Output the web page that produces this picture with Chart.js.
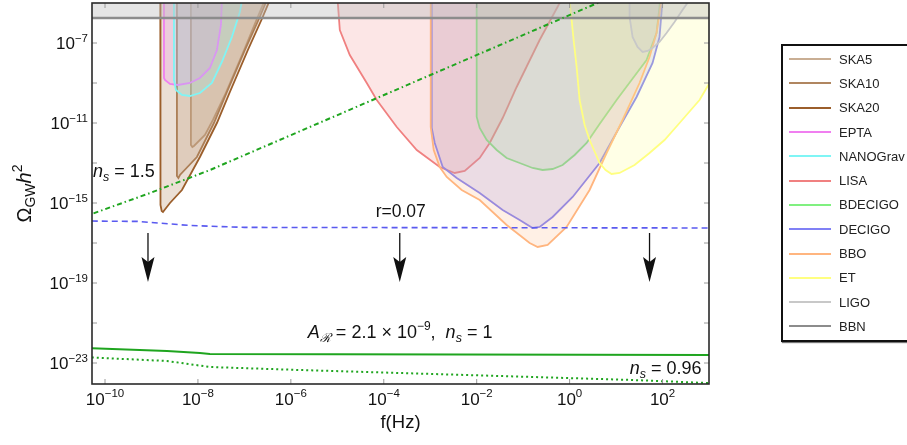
<!DOCTYPE html>
<html>
<head>
<meta charset="utf-8">
<script src="https://cdn.jsdelivr.net/npm/chart.js@4.4.1/dist/chart.umd.min.js"></script>
<style>
  html, body { margin: 0; padding: 0; background: #fff; overflow: hidden; }
  #wrap { position: relative; width: 907px; height: 445px; }
  #chart-box { position: absolute; left: 0; top: 0; width: 907px; height: 445px; }
  #legend {
    position: absolute; left: 781px; top: 44px; width: 150px; height: 293px; padding-top: 1px;
    border: 2px solid #111; box-shadow: 1px 1px 1px #777; background: #fff;
    font-family: 'Liberation Sans', Arial, sans-serif; font-size: 13px; color: #222;
  }
  .row { height: 24.3px; display: flex; align-items: center; white-space: nowrap; }
  .sw { width: 42px; height: 2px; margin: 0 8px 0 6px; flex: none; }
</style>
</head>
<body>
<div id="wrap">
  <div id="chart-box"><canvas id="gw-chart"></canvas></div>
  <div id="legend"></div>
</div>
<script>
// All values are log10(f / Hz) and log10(Omega_GW h^2).
const SKA5_F = [-8.151, -8.151, -8.12, -8.086, -7.849, -7.677, -7.419, -7.032, -6.731, -6.559, -6.45];
const SKA5_O = [-4.35, -12.1, -12.2, -12.15, -11.6, -10.85, -9.6, -7.5, -5.8, -4.85, -4.35];
const SKA10_F = [-8.452, -8.452, -8.42, -8.387, -8.022, -7.656, -7.376, -6.989, -6.688, -6.516, -6.409];
const SKA10_O = [-4.35, -13.65, -13.75, -13.6, -12.7, -11.0, -9.45, -7.35, -5.8, -4.85, -4.35];
const SKA20_F = [-8.81, -8.806, -8.78, -8.753, -8.602, -8.344, -7.957, -7.591, -7.312, -6.925, -6.624, -6.452, -6.344];
const SKA20_O = [-4.35, -15.1, -15.4, -15.45, -15.0, -14.35, -12.7, -11.0, -9.45, -7.35, -5.8, -4.85, -4.25];
const EPTA_F = [-8.731, -8.731, -8.71, -8.602, -8.43, -8.172, -7.957, -7.742, -7.591, -7.505, -7.484, -7.473];
const EPTA_O = [-4.35, -8.75, -8.85, -9.05, -9.1, -9.0, -8.75, -8.25, -7.35, -6.1, -4.85, -4.35];
const NANO_F = [-8.516, -8.516, -8.473, -8.344, -8.172, -7.957, -7.699, -7.484, -7.269, -7.097, -7.011];
const NANO_O = [-4.35, -8.85, -9.35, -9.6, -9.65, -9.5, -9.0, -7.95, -6.7, -5.45, -4.35];
const LISA_F = [-4.989, -4.989, -4.946, -4.731, -4.366, -4.151, -3.72, -3.29, -2.796, -2.473, -2.258, -1.935, -1.72, -1.441, -1.14, -0.645, -0.215, -0.108];
const LISA_O = [-4.35, -5.0, -6.35, -7.6, -9.0, -9.85, -11.2, -12.35, -13.2, -13.5, -13.4, -12.75, -12.0, -10.75, -9.2, -6.85, -5.0, -4.35];
const BDECIGO_F = [-2.0, -2.0, -1.935, -1.785, -1.57, -1.355, -1.075, -0.796, -0.581, -0.366, -0.151, 0.108, 0.366, 0.645, 1.011, 1.333, 1.656, 1.871, 1.935, 1.957];
const BDECIGO_O = [-4.35, -10.7, -11.25, -11.85, -12.35, -12.75, -13.0, -13.25, -13.35, -13.3, -13.1, -12.6, -12.0, -11.05, -9.85, -8.85, -7.85, -6.5, -5.2, -4.35];
const DECIGO_F = [-2.968, -2.968, -2.903, -2.731, -2.43, -1.935, -1.441, -1.075, -0.796, -0.645, -0.366, 0.065, 0.645, 1.075, 1.441, 1.785, 1.935, 2.0, 2.022];
const DECIGO_O = [-4.35, -11.25, -12.0, -13.2, -13.75, -14.5, -15.35, -15.85, -16.25, -16.2, -15.7, -14.7, -13.0, -11.2, -9.7, -8.0, -6.7, -4.85, -4.35];
const BBO_F = [-2.989, -2.989, -2.925, -2.796, -2.645, -2.323, -1.935, -1.355, -0.86, -0.688, -0.473, -0.065, 0.43, 0.796, 1.14, 1.505, 1.72, 1.871, 1.978, 2.0];
const BBO_O = [-4.35, -11.2, -12.35, -13.2, -13.7, -14.35, -14.85, -16.1, -17.0, -17.2, -17.1, -16.2, -14.35, -12.5, -10.85, -9.0, -7.7, -6.5, -4.85, -4.35];
const ET_F = [-0.022, 0.0, 0.086, 0.151, 0.215, 0.323, 0.43, 0.645, 0.774, 0.903, 1.075, 1.398, 1.72, 2.043, 2.366, 2.796, 3.011, 3.333, 3.763, 4.301];
const ET_O = [-4.35, -4.85, -6.85, -8.2, -9.85, -11.1, -11.85, -13.0, -13.35, -13.55, -13.5, -13.1, -12.5, -11.85, -11.0, -9.85, -9.0, -7.85, -6.35, -4.85];
const LIGO_F = [1.29, 1.29, 1.355, 1.462, 1.57, 1.677, 1.785, 1.935, 2.086, 2.258, 2.43, 2.581, 2.688];
const LIGO_O = [-4.35, -5.7, -6.7, -7.2, -7.45, -7.4, -7.25, -6.95, -6.5, -5.95, -5.35, -4.85, -4.45];
const BBN_F = [-11, 4];
const BBN_O = [-5.75, -5.75];

// theory curves
const NS15_F = [-10.5, -9.03, -7.74, 1.0];
const NS15_O = [-15.73, -14.5, -13.35, -4.6];
const R007_F = [-10.5, -9.3, -8.2, -7.0, 3.5];
const R007_O = [-15.9, -15.92, -16.12, -16.22, -16.25];
const NS1_F = [-10.5, -8.667, -7.957, -7.742, 3.5];
const NS1_O = [-22.25, -22.4, -22.5, -22.55, -22.6];
const NS096_F = [-10.5, -8.667, -7.742, -5.81, -1.505, 1.355, 3.5];
const NS096_O = [-22.7, -22.9, -23.2, -23.35, -23.65, -23.85, -24.05];

const ARROW_F = [-9.075, -3.656, 1.72];
const ARROW_TOP = -16.5;
const ARROW_TIP = -18.95;

const X_RANGE = [-10.28, 3];
const Y_RANGE = [-24.05, -5];
const X_TICKS = [-10, -8, -6, -4, -2, 0, 2];
const Y_TICKS = [-7, -9, -11, -13, -15, -17, -19, -21, -23];
const Y_LABELS = [-7, -11, -15, -19, -23];

const regions = [
  ['SKA5', SKA5_F, SKA5_O, '#c9ae94'],
  ['SKA10', SKA10_F, SKA10_O, '#b08660'],
  ['SKA20', SKA20_F, SKA20_O, '#9b5e2b'],
  ['EPTA', EPTA_F, EPTA_O, '#f07ff0'],
  ['NANOGrav', NANO_F, NANO_O, '#7ff5f5'],
  ['LISA', LISA_F, LISA_O, '#f08080'],
  ['BDECIGO', BDECIGO_F, BDECIGO_O, '#80f080'],
  ['DECIGO', DECIGO_F, DECIGO_O, '#8080f5'],
  ['BBO', BBO_F, BBO_O, '#ffb57f'],
  ['ET', ET_F, ET_O, '#ffff80'],
  ['LIGO', LIGO_F, LIGO_O, '#c8c8c8'],
];

const FONT = "'Liberation Sans', Arial, sans-serif";
const GREEN = '#1fa51f';

const pts = (f, o) => f.map((v, i) => ({ x: 10 ** v, y: 10 ** o[i] }));
const rgba = (hex, a) => {
  const n = parseInt(hex.slice(1), 16);
  return `rgba(${n >> 16},${(n >> 8) & 255},${n & 255},${a})`;
};

const datasets = regions.map(([label, f, o, color], i) => ({
  label, data: pts(f, o), borderColor: color, borderWidth: 1.8,
  backgroundColor: rgba(color, 0.2), fill: 'end', order: 100 - i,
}));
datasets.push({
  label: 'BBN', data: pts(BBN_F, BBN_O), borderColor: '#8c8c8c', borderWidth: 2.5,
  backgroundColor: 'rgba(190,190,190,0.4)', fill: 'end', order: 50,
});
datasets.push(
  { label: 'ns15', data: pts(NS15_F, NS15_O), borderColor: GREEN, borderWidth: 2, borderDash: [5, 3, 1.5, 3], fill: false, order: 4 },
  { label: 'r007', data: pts(R007_F, R007_O), borderColor: '#5a5af0', borderWidth: 1.6, borderDash: [6, 4], fill: false, order: 3 },
  { label: 'ns1', data: pts(NS1_F, NS1_O), borderColor: GREEN, borderWidth: 2, fill: false, order: 2 },
  { label: 'ns096', data: pts(NS096_F, NS096_O), borderColor: GREEN, borderWidth: 2, borderDash: [2, 3], fill: false, order: 1 },
);

// draw a run of text pieces: [text, size, dy, italic]
function drawRich(ctx, segs, x, y, align) {
  const widths = segs.map(([t, size, , it]) => {
    ctx.font = `${it ? 'italic ' : ''}${size}px ${FONT}`;
    return ctx.measureText(t).width;
  });
  const total = widths.reduce((s, w) => s + w, 0);
  let cx = align === 'center' ? x - total / 2 : align === 'right' ? x - total : x;
  segs.forEach(([t, size, dy, it], i) => {
    ctx.font = `${it ? 'italic ' : ''}${size}px ${FONT}`;
    ctx.fillText(t, cx, y + dy);
    cx += widths[i];
  });
}
const expText = (e) => (e < 0 ? '\u2212' + Math.abs(e) : String(e));

const annotations = {
  id: 'annotations',
  afterDatasetsDraw(chart) {
    const { ctx, scales: { x, y } } = chart;
    const px = (f) => x.getPixelForValue(10 ** f);
    const py = (o) => y.getPixelForValue(10 ** o);
    ctx.save();
    ctx.fillStyle = '#111';
    ctx.strokeStyle = '#111';
    ctx.textBaseline = 'alphabetic';

    // arrows
    ARROW_F.forEach((f) => {
      const ax = px(f), top = py(ARROW_TOP), tip = py(ARROW_TIP);
      ctx.lineWidth = 1.3;
      ctx.beginPath(); ctx.moveTo(ax, top); ctx.lineTo(ax, tip - 18); ctx.stroke();
      ctx.beginPath();
      ctx.moveTo(ax, tip); ctx.lineTo(ax - 6.5, tip - 25); ctx.lineTo(ax, tip - 20); ctx.lineTo(ax + 6.5, tip - 25);
      ctx.closePath(); ctx.fill();
    });

    drawRich(ctx, [['n', 18, 0, true], ['s', 12.5, 4, true], [' = 1.5', 18, 0]], px(-10.258), py(-13.7), 'left');
    drawRich(ctx, [['r=0.07', 17.5, 0]], px(-3.634), py(-15.7), 'center');
    drawRich(ctx, [
      ['A', 18, 0, true], ['\u211B', 12.5, 4, true], [' = 2.1 \u00D7 10', 18, 0], ['\u22129', 12, -8],
      [',  ', 18, 0], ['n', 18, 0, true], ['s', 12.5, 4, true], [' = 1', 18, 0],
    ], px(-5.634), py(-21.75), 'left');
    drawRich(ctx, [['n', 18, 0, true], ['s', 12.5, 4, true], [' = 0.96', 18, 0]], px(2.839), py(-23.55), 'right');
    ctx.restore();
  },
};

const frame = {
  id: 'frame',
  afterDraw(chart) {
    const { ctx, chartArea: a, scales: { x, y } } = chart;
    const seg = (x1, y1, x2, y2) => { ctx.beginPath(); ctx.moveTo(x1, y1); ctx.lineTo(x2, y2); ctx.stroke(); };
    ctx.save();
    ctx.strokeStyle = '#9a9a9a';
    ctx.lineWidth = 1;
    X_TICKS.forEach((e) => {
      const p = x.getPixelForValue(10 ** e);
      seg(p, a.bottom, p, a.bottom - 5); seg(p, a.top, p, a.top + 5);
    });
    Y_TICKS.forEach((e) => {
      const p = y.getPixelForValue(10 ** e);
      seg(a.left, p, a.left + 5, p); seg(a.right, p, a.right - 5, p);
    });
    ctx.strokeStyle = '#2a2a2a';
    ctx.lineWidth = 1.6;
    ctx.strokeRect(a.left, a.top, a.right - a.left, a.bottom - a.top);

    ctx.fillStyle = '#111';
    X_TICKS.forEach((e) => {
      drawRich(ctx, [['10', 17, 0], [expText(e), 11.5, -8]], x.getPixelForValue(10 ** e), a.bottom + 21, 'center');
    });
    Y_LABELS.forEach((e) => {
      drawRich(ctx, [['10', 17, 0], [expText(e), 11.5, -7]], a.left - 4, y.getPixelForValue(10 ** e) + 6, 'right');
    });

    // axis titles
    drawRich(ctx, [['f(Hz)', 18.5, 0]], (a.left + a.right) / 2, 428, 'center');
    ctx.translate(31, (a.top + a.bottom) / 2);
    ctx.rotate(-Math.PI / 2);
    drawRich(ctx, [['\u03A9', 20, 0], ['GW', 14, 4], ['h', 20, 0, true], ['2', 14, -9]], 0, 0, 'center');
    ctx.restore();
  },
};

function renderChart() {
  new Chart(document.getElementById('gw-chart'), {
    type: 'line',
    data: { datasets },
    options: {
      responsive: true,
      maintainAspectRatio: false,
      animation: false,
      events: [],
      layout: { padding: { left: 92, right: 198, top: 3, bottom: 61 } },
      elements: { point: { radius: 0 }, line: { tension: 0 } },
      plugins: { legend: { display: false }, tooltip: { enabled: false } },
      scales: {
        x: { type: 'logarithmic', display: false, bounds: 'data', min: 10 ** X_RANGE[0], max: 10 ** X_RANGE[1] },
        y: { type: 'logarithmic', display: false, bounds: 'data', min: 10 ** Y_RANGE[0], max: 10 ** Y_RANGE[1] },
      },
    },
    plugins: [annotations, frame],
  });
}

function renderLegend() {
  const items = [...regions.map(([label, , , c]) => [label, c]), ['BBN', '#8c8c8c']];
  document.getElementById('legend').innerHTML = items.map(([label, c]) =>
    `<div class="row"><span class="sw" style="background:${c}"></span><span>${label}</span></div>`
  ).join('');
}

const steps = [['chart', renderChart], ['legend', renderLegend]];
for (const [name, fn] of steps) {
  try { fn(); } catch (e) { console.error(`gw: ${name} failed`, e); }
}
</script>
</body>
</html>
